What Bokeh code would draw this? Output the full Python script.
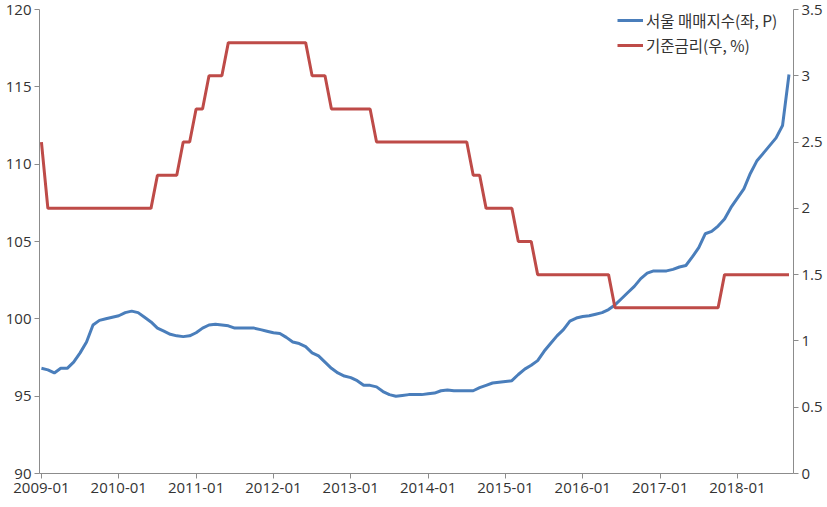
from bokeh.plotting import figure
from bokeh.models import Range1d, LinearAxis, FixedTicker, Legend, LegendItem, ColumnDataSource
from bokeh.embed import file_html
from bokeh.resources import INLINE

month_labels = ["2009-01", "2010-01", "2011-01", "2012-01", "2013-01",
                "2014-01", "2015-01", "2016-01", "2017-01", "2018-01"]

seoul_index = [
    96.8, 96.7, 96.5, 96.8, 96.8, 97.2, 97.8, 98.5, 99.6, 99.9,
    100.0, 100.1, 100.2, 100.4, 100.5, 100.4, 100.1, 99.8, 99.4, 99.2,
    99.0, 98.9, 98.85, 98.9, 99.1, 99.4, 99.6, 99.65, 99.6, 99.55,
    99.4, 99.4, 99.4, 99.4, 99.3, 99.2, 99.1, 99.05, 98.8, 98.5,
    98.4, 98.2, 97.8, 97.6, 97.2, 96.8, 96.5, 96.3, 96.2, 96.0,
    95.7, 95.7, 95.6, 95.3, 95.1, 95.0, 95.05, 95.1, 95.1, 95.1,
    95.15, 95.2, 95.35, 95.4, 95.35, 95.35, 95.35, 95.35, 95.55, 95.7,
    95.85, 95.9, 95.95, 96.0, 96.4, 96.75, 97.0, 97.3, 97.9, 98.4,
    98.9, 99.3, 99.85, 100.05, 100.15, 100.2, 100.3, 100.4, 100.6, 100.9,
    101.3, 101.7, 102.1, 102.6, 102.95, 103.1, 103.1, 103.1, 103.2, 103.35,
    103.45, 104.0, 104.6, 105.5, 105.65, 106.0, 106.45, 107.2, 107.8, 108.4,
    109.4, 110.2, 110.7, 111.2, 111.7, 112.5, 115.8,
]

base_rate = (
    [2.5]
    + [2.0] * 17
    + [2.25] * 4
    + [2.5] * 2
    + [2.75] * 2
    + [3.0] * 3
    + [3.25] * 13
    + [3.0] * 3
    + [2.75] * 7
    + [2.5] * 15
    + [2.25] * 2
    + [2.0] * 5
    + [1.75] * 3
    + [1.5] * 12
    + [1.25] * 17
    + [1.5] * 11
)

months = list(range(len(seoul_index)))

FONT = "Noto Sans CJK KR"
NUM_FONT = "Open Sans"
AXIS_COLOR = "#8c8c8c"
TEXT_COLOR = "#333333"

p = figure(width=827, height=507, output_backend="svg", toolbar_location=None,
           x_range=Range1d(-0.3, 116.7), y_range=Range1d(90, 120))
p.min_border_left = 39
p.min_border_right = 34
p.min_border_top = 9
p.min_border_bottom = 34
p.outline_line_color = None
p.xgrid.visible = False
p.ygrid.visible = False
p.background_fill_color = "white"
p.border_fill_color = "white"

p.extra_y_ranges = {"rate": Range1d(0, 3.5)}

src = ColumnDataSource(dict(x=months, idx=seoul_index, rate=base_rate))
r_blue = p.line("x", "idx", source=src, line_color="#4a7ebb", line_width=3)
r_red = p.line("x", "rate", source=src, y_range_name="rate", line_color="#be4b48", line_width=3)

def style_axis(ax):
    ax.axis_line_color = AXIS_COLOR
    ax.axis_line_width = 1
    ax.major_tick_line_color = AXIS_COLOR
    ax.major_tick_in = 0
    ax.major_tick_out = 5
    ax.minor_tick_line_color = None
    ax.major_label_text_font = NUM_FONT
    ax.major_label_text_font_size = "15px"
    ax.major_label_text_color = TEXT_COLOR
    ax.major_label_standoff = 3

# bottom axis
xa = p.xaxis[0]
style_axis(xa)
xa.ticker = FixedTicker(ticks=[i * 12 for i in range(len(month_labels))])
xa.major_label_overrides = {i * 12: lab for i, lab in enumerate(month_labels)}
xa.major_label_standoff = 4

# left axis
ya = p.yaxis[0]
style_axis(ya)
ya.ticker = FixedTicker(ticks=[90, 95, 100, 105, 110, 115, 120])

# right axis
ra = LinearAxis(y_range_name="rate")
style_axis(ra)
ra.ticker = FixedTicker(ticks=[0, 0.5, 1, 1.5, 2, 2.5, 3, 3.5])
ra.major_label_overrides = {0: "0", 1: "1", 2: "2", 3: "3"}
p.add_layout(ra, "right")

legend = Legend(items=[LegendItem(label="서울 매매지수(좌, P)", renderers=[r_blue]),
                       LegendItem(label="기준금리(우, %)", renderers=[r_red])],
                location=(578, 417))
legend.border_line_color = None
legend.background_fill_alpha = 0
legend.label_text_font = FONT
legend.label_text_font_size = "15.5px"
legend.label_text_color = TEXT_COLOR
legend.glyph_width = 26
legend.label_standoff = 3
legend.spacing = 3
legend.margin = 0
legend.padding = 3
p.add_layout(legend)

open("out.html", "w").write(file_html(p, INLINE))
